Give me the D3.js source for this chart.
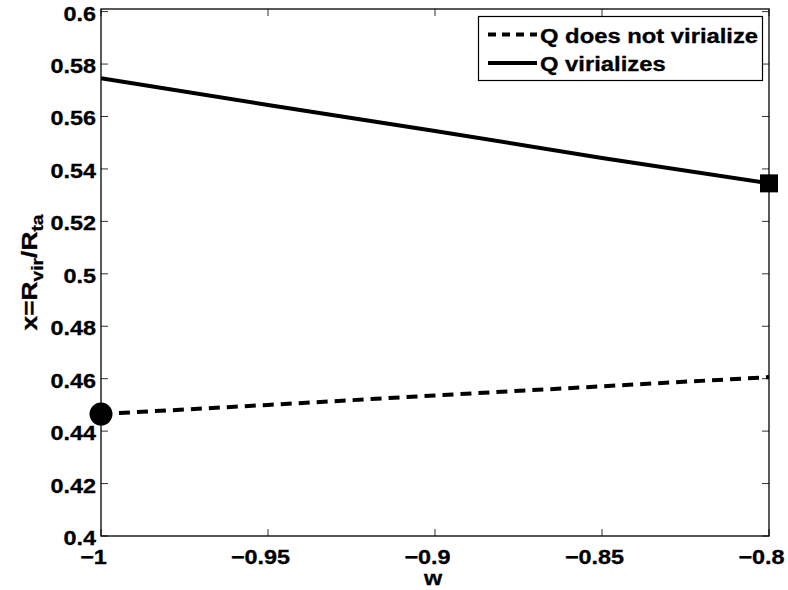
<!DOCTYPE html>
<html>
<head>
<meta charset="utf-8">
<script src="https://cdn.jsdelivr.net/npm/d3@7"></script>
<style>
  html, body { margin: 0; padding: 0; background: #fff; }
  svg { display: block; }
  text { font-family: "Liberation Sans", Arial, Helvetica, sans-serif; font-weight: bold; fill: #000; stroke: #000; stroke-width: 0.3; }
</style>
</head>
<body>
<svg id="chart" width="788" height="590"></svg>
<script>
// ---- data ----
const wValues = [-1, -0.95, -0.9, -0.85, -0.8];
const notVirialize = [0.4465, 0.4500, 0.4536, 0.4571, 0.4606];
const virializes = [0.5746, 0.5644, 0.5545, 0.5442, 0.5345];
const xTicks = [-1, -0.95, -0.9, -0.85, -0.8];
const yTicks = [0.4, 0.42, 0.44, 0.46, 0.48, 0.5, 0.52, 0.54, 0.56, 0.58, 0.6];
const seriesNames = ["Q does not virialize", "Q virializes"];
const xDomain = [-1, -0.8];
const yDomain = [0.4, 0.601];

// ---- layout ----
const svg = d3.select("#chart");
const L = 101, R = 769, T = 9, B = 536;
const x = d3.scaleLinear().domain(xDomain).range([L, R]);
const y = d3.scaleLinear().domain(yDomain).range([B, T]);
const fmt = d => (d < 0 ? "\u2212" : "") + String(Math.abs(+d.toFixed(3)));

function addText(parent, tx, ty, str, size, anchor, sx) {
  return parent.append("text")
    .attr("transform", `translate(${tx},${ty}) scale(${sx},1)`)
    .attr("text-anchor", anchor)
    .attr("font-size", size)
    .text(str);
}

svg.append("rect").attr("x", 0).attr("y", 0).attr("width", 788).attr("height", 590).attr("fill", "#fff");

const tickLen = 7;
const g = svg.append("g");
xTicks.forEach(t => {
  g.append("line").attr("x1", x(t)).attr("x2", x(t)).attr("y1", B).attr("y2", B - tickLen).attr("stroke", "#333").attr("stroke-width", 1);
  g.append("line").attr("x1", x(t)).attr("x2", x(t)).attr("y1", T).attr("y2", T + tickLen).attr("stroke", "#333").attr("stroke-width", 1);
  addText(g, x(t) - 7.5, 564, fmt(t), 20, "middle", 1.17);
});
yTicks.forEach(t => {
  g.append("line").attr("x1", L).attr("x2", L + tickLen).attr("y1", y(t)).attr("y2", y(t)).attr("stroke", "#333").attr("stroke-width", 1);
  g.append("line").attr("x1", R).attr("x2", R - tickLen).attr("y1", y(t)).attr("y2", y(t)).attr("stroke", "#333").attr("stroke-width", 1);
  addText(g, 96, y(t) + 9, fmt(t), 20, "end", 1.17);
});
g.append("rect").attr("x", L).attr("y", T).attr("width", R - L).attr("height", B - T)
  .attr("fill", "none").attr("stroke", "#000").attr("stroke-width", 1.3);

// lines
const line = d3.line().x((d, i) => x(wValues[i])).y(d => y(d));
svg.append("path").datum(notVirialize).attr("d", line).attr("fill", "none")
  .attr("stroke", "#000").attr("stroke-width", 4).attr("stroke-dasharray", "11,7");
svg.append("path").datum(virializes).attr("d", line).attr("fill", "none")
  .attr("stroke", "#000").attr("stroke-width", 4);

// markers
svg.append("circle").attr("cx", x(wValues[0])).attr("cy", y(notVirialize[0])).attr("r", 11.5).attr("fill", "#000");
const sq = 18;
svg.append("rect").attr("x", x(wValues[wValues.length - 1]) - sq / 2).attr("y", y(virializes[virializes.length - 1]) - sq / 2)
  .attr("width", sq).attr("height", sq).attr("fill", "#000");

// axis labels
addText(svg, (L + R) / 2 - 2, 585, "w", 20, "middle", 1.17);
const yl = svg.append("text")
  .attr("transform", `translate(37,${(T + B) / 2}) rotate(-90) scale(1.2,1)`)
  .attr("text-anchor", "middle").attr("font-size", 22);
yl.append("tspan").text("x=R");
yl.append("tspan").attr("font-size", 16).attr("dy", 6).text("vir");
yl.append("tspan").attr("dy", -6).text("/R");
yl.append("tspan").attr("font-size", 16).attr("dy", 6).text("ta");

// legend
const lg = svg.append("g");
lg.append("rect").attr("x", 478.5).attr("y", 16.5).attr("width", 284).attr("height", 64)
  .attr("fill", "#fff").attr("stroke", "#000").attr("stroke-width", 1.2);
const rows = [34.5, 63];
lg.append("line").attr("x1", 488).attr("x2", 537).attr("y1", rows[0]).attr("y2", rows[0])
  .attr("stroke", "#000").attr("stroke-width", 4).attr("stroke-dasharray", "8,6");
lg.append("line").attr("x1", 488).attr("x2", 537).attr("y1", rows[1]).attr("y2", rows[1])
  .attr("stroke", "#000").attr("stroke-width", 4);
seriesNames.forEach((n, i) => {
  addText(lg, 540, rows[i] + 8, n, 20, "start", 1.19);
});
</script>
</body>
</html>
